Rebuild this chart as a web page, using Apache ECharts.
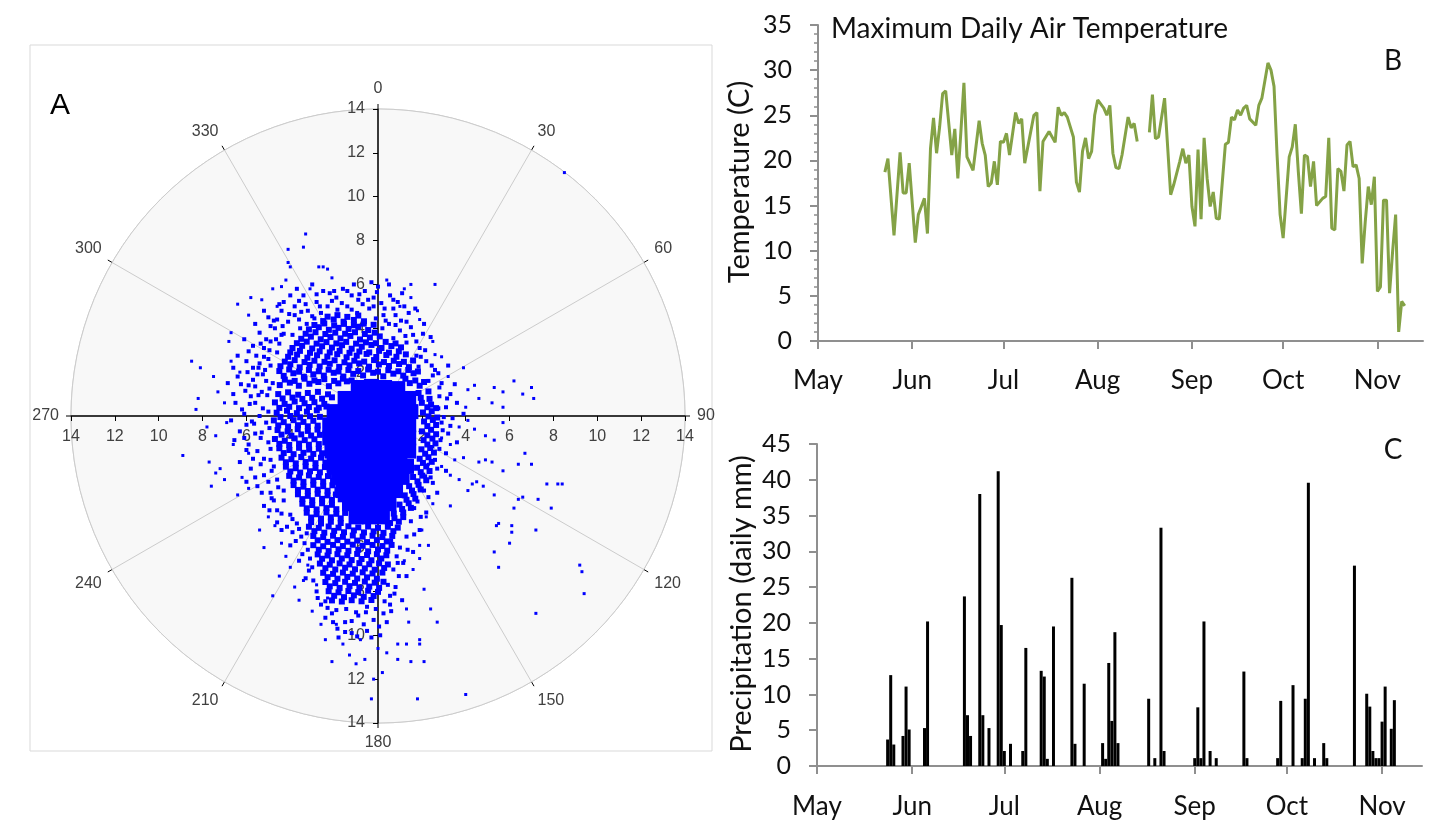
<!DOCTYPE html>
<html>
<head>
<meta charset="utf-8">
<script src="https://cdn.jsdelivr.net/npm/echarts@6/dist/echarts.min.js"></script>
<style>
  html, body { margin: 0; padding: 0; background: #ffffff; }
  #main { width: 1432px; height: 823px; }
</style>
</head>
<body>
<div id="main"></div>
<script>
// ---- Panel A: wind components (east, north) ----
// solid centre of the cloud
const windCore = [
  [-0.9,1.3],[-0.3,1.35],[0.3,1.3],[0.9,1.25],
  [-1.5,0.8],[-0.9,0.75],[-0.3,0.8],[0.3,0.8],[0.9,0.75],[1.4,0.8],
  [-2.0,0.2],[-1.4,0.2],[-0.8,0.2],[-0.2,0.2],[0.4,0.2],[1.0,0.2],[1.5,0.2],
  [-2.2,-0.4],[-1.6,-0.4],[-1.0,-0.4],[-0.4,-0.4],[0.2,-0.4],[0.8,-0.4],[1.4,-0.4],
  [-2.2,-1.0],[-1.6,-1.0],[-1.0,-1.0],[-0.4,-1.0],[0.2,-1.0],[0.8,-1.0],[1.4,-1.0],
  [-2.1,-1.6],[-1.5,-1.6],[-0.9,-1.6],[-0.3,-1.6],[0.3,-1.6],[0.9,-1.6],[1.4,-1.6],
  [-2.0,-2.2],[-1.4,-2.2],[-0.8,-2.2],[-0.2,-2.2],[0.4,-2.2],[1.0,-2.2],[1.3,-2.3],
  [-1.8,-2.8],[-1.2,-2.8],[-0.6,-2.8],[0.0,-2.8],[0.6,-2.8],[1.1,-2.8],
  [-1.6,-3.4],[-1.0,-3.4],[-0.4,-3.4],[0.2,-3.4],[0.8,-3.4],
  [-1.3,-4.0],[-0.7,-4.0],[-0.1,-4.0],[0.5,-4.0],
  [-1.0,-4.6],[-0.4,-4.6],[0.2,-4.6]
];
// dense band around the centre and the southern tail
const windDense = [
  [-4.48,1.41],[-4.02,1.52],[-3.61,1.38],[-3.13,1.47],[-2.72,1.55],[-2.24,1.36],[-1.81,1.49],[-1.42,1.58],[1.45,1.5],[1.9,1.38],
  [-4.3,1.83],[-3.86,1.95],[-3.38,1.79],[-2.95,1.9],[-2.47,1.84],[-2.02,1.97],[-1.58,1.8],[-1.13,1.92],[-0.68,1.85],[-0.22,1.97],[0.24,1.81],[0.7,1.93],[1.15,1.84],[1.62,1.95],
  [-4.45,2.27],[-4.0,2.36],[-3.57,2.22],[-3.12,2.33],[-2.66,2.26],[-2.2,2.38],[-1.77,2.24],[-1.3,2.31],[-0.86,2.4],[-0.41,2.25],[0.04,2.35],[0.5,2.28],[0.96,2.37],[1.41,2.23],
  [-4.1,2.7],[-3.69,2.8],[-3.22,2.66],[-2.78,2.77],[-2.31,2.71],[-1.86,2.82],[-1.43,2.68],[-0.97,2.75],[-0.52,2.83],[-0.08,2.69],[0.38,2.78],[0.84,2.7],[1.27,2.81],
  [-3.9,3.1],[-3.46,3.2],[-3.0,3.08],[-2.55,3.18],[-2.1,3.12],[-1.64,3.23],[-1.2,3.07],[-0.74,3.16],[-0.3,3.24],[0.16,3.1],[0.61,3.19],[1.05,3.13],
  [-3.5,3.52],[-3.06,3.62],[-2.61,3.5],[-2.17,3.6],[-1.71,3.54],[-1.26,3.65],[-0.82,3.49],[-0.37,3.58],[0.08,3.63],
  [-3.15,3.95],[-2.7,4.05],[-2.24,3.93],[-1.8,4.02],[-1.34,3.97],[-0.9,4.07],[-0.45,3.92],
  [-2.5,4.33],[-2.02,4.4],[-1.57,4.3],[-1.1,4.38],[-0.64,4.32],
  [-4.55,1.0],[-4.1,1.08],[-3.64,0.97],[-3.2,1.05],[-2.74,1.1],[-2.28,0.99],[1.85,1.05],[2.3,1.12],
  [-4.7,0.62],[-4.26,0.55],[-3.8,0.66],[-3.35,0.58],[-2.9,0.63],[-2.45,0.55],[2.0,0.6],[2.42,0.52],
  [-4.62,0.15],[-4.15,0.24],[-3.7,0.13],[-3.24,0.2],[-2.79,0.26],[2.05,0.16],[2.45,0.22],
  [-4.75,-0.2],[-4.3,-0.28],[-3.85,-0.19],[-3.4,-0.27],[-2.95,-0.22],[2.1,-0.25],[2.5,-0.18],
  [-4.58,-0.64],[-4.12,-0.7],[-3.66,-0.6],[-3.2,-0.68],[-2.76,-0.62],[2.0,-0.7],[2.42,-0.63],
  [-4.7,-1.05],[-4.25,-1.13],[-3.8,-1.02],[-3.34,-1.1],[-2.9,-1.06],[2.08,-1.1],[2.48,-1.03],
  [-4.5,-1.47],[-4.04,-1.55],[-3.6,-1.45],[-3.14,-1.53],[-2.7,-1.49],[1.98,-1.52],[2.38,-1.46],
  [-4.4,-1.9],[-3.95,-1.97],[-3.5,-1.87],[-3.05,-1.95],[-2.6,-1.9],[1.9,-1.95],[2.3,-1.88],
  [-4.2,-2.31],[-3.75,-2.38],[-3.3,-2.3],[-2.85,-2.37],[-2.42,-2.33],[1.78,-2.36],[2.2,-2.3],
  [-4.05,-2.73],[-3.6,-2.8],[-3.15,-2.71],[-2.7,-2.78],[-2.28,-2.74],[1.6,-2.78],[2.02,-2.72],
  [-3.85,-3.15],[-3.4,-3.22],[-2.95,-3.14],[-2.5,-3.2],[-2.08,-3.16],[1.42,-3.2],[1.85,-3.14],
  [-3.65,-3.57],[-3.2,-3.64],[-2.75,-3.55],[-2.3,-3.62],[-1.92,-3.58],[1.22,-3.62],[1.62,-3.56],
  [-3.45,-4.0],[-3.0,-4.06],[-2.55,-3.98],[-2.1,-4.05],[0.98,-4.04],[1.4,-3.98],
  [-3.25,-4.41],[-2.8,-4.48],[-2.35,-4.4],[-1.9,-4.46],[-1.5,-4.42],[0.72,-4.45],[1.15,-4.4],
  [-3.05,-4.84],[-2.6,-4.9],[-2.15,-4.82],[-1.7,-4.88],[0.55,-4.88],[0.95,-4.82],
  [-2.9,-5.25],[-2.45,-5.32],[-2.0,-5.24],[-1.55,-5.3],[-1.1,-5.22],[-0.64,-5.31],[-0.2,-5.26],[0.25,-5.33],[0.7,-5.25],
  [-2.75,-5.67],[-2.3,-5.74],[-1.85,-5.66],[-1.4,-5.73],[-0.95,-5.68],[-0.5,-5.75],[-0.05,-5.66],[0.4,-5.72],
  [-2.7,-6.1],[-2.25,-6.16],[-1.8,-6.08],[-1.35,-6.15],[-0.9,-6.1],[-0.45,-6.17],[0.0,-6.09],[0.42,-6.14],
  [-2.55,-6.51],[-2.1,-6.58],[-1.65,-6.5],[-1.2,-6.57],[-0.75,-6.52],[-0.3,-6.58],[0.15,-6.5],
  [-2.4,-6.94],[-1.95,-7.0],[-1.5,-6.92],[-1.05,-6.99],[-0.6,-6.95],[-0.15,-7.01],[0.28,-6.93],
  [-2.3,-7.35],[-1.85,-7.42],[-1.4,-7.34],[-0.95,-7.41],[-0.5,-7.36],[-0.05,-7.42],
  [-2.2,-7.77],[-1.75,-7.84],[-1.3,-7.76],[-0.85,-7.83],[-0.4,-7.78],[0.05,-7.84],
  [-2.0,-8.2],[-1.55,-8.26],[-1.1,-8.18],[-0.65,-8.25],[-0.2,-8.21]
];
// second layer of the dense band, filling between the first
const windDense2 = [
  [-4.25,1.66],[-3.8,1.6],[-3.35,1.7],[-2.9,1.62],[-2.45,1.68],[-2.0,1.6],[-1.6,1.7],[-1.2,1.62],[1.25,1.7],[1.7,1.62],[2.1,1.55],
  [-4.5,2.05],[-4.05,2.12],[-3.6,2.02],[-3.15,2.1],[-2.7,2.04],[-2.25,2.11],[-1.8,2.03],[-1.35,2.1],[-0.9,2.05],[-0.45,2.12],[0.0,2.02],[0.47,2.09],[0.93,2.04],[1.38,2.1],[1.82,2.03],
  [-4.25,2.48],[-3.8,2.55],[-3.35,2.46],[-2.9,2.52],[-2.44,2.47],[-1.98,2.54],[-1.53,2.45],[-1.08,2.52],[-0.63,2.48],[-0.18,2.55],[0.27,2.46],[0.72,2.52],[1.18,2.47],[1.6,2.53],
  [-4.0,2.9],[-3.56,2.97],[-3.1,2.88],[-2.66,2.95],[-2.2,2.9],[-1.75,2.97],[-1.3,2.88],[-0.85,2.94],[-0.4,2.9],[0.05,2.97],[0.5,2.89],[0.95,2.95],
  [-3.7,3.32],[-3.25,3.39],[-2.8,3.3],[-2.35,3.37],[-1.9,3.31],[-1.45,3.38],[-1.0,3.3],[-0.55,3.36],[-0.1,3.32],[0.35,3.38],[0.8,3.31],
  [-3.3,3.75],[-2.85,3.82],[-2.4,3.74],[-1.95,3.8],[-1.5,3.75],[-1.05,3.82],[-0.6,3.74],[-0.15,3.8],
  [-2.9,4.15],[-2.45,4.22],[-2.0,4.13],[-1.55,4.2],[-1.1,4.14],[-0.65,4.21],[-0.2,4.16],
  [-2.3,4.53],[-1.85,4.6],[-1.4,4.52],[-0.9,4.58],
  [-4.35,0.8],[-3.9,0.84],[-3.45,0.78],[-3.0,0.83],[-2.55,0.79],[-2.1,0.85],[1.95,0.83],[2.35,0.78],
  [-4.5,0.37],[-4.05,0.42],[-3.6,0.36],[-3.15,0.41],[-2.7,0.38],[-2.35,0.43],[2.25,0.4],[2.65,0.36],
  [-4.45,-0.05],[-4.0,0.0],[-3.55,-0.06],[-3.1,-0.01],[-2.65,-0.04],[2.3,-0.02],[2.7,-0.07],
  [-4.55,-0.43],[-4.1,-0.48],[-3.65,-0.42],[-3.2,-0.47],[-2.75,-0.44],[2.25,-0.46],[2.65,-0.41],
  [-4.4,-0.85],[-3.95,-0.9],[-3.5,-0.84],[-3.05,-0.89],[-2.65,-0.86],[2.25,-0.88],[2.65,-0.83],
  [-4.5,-1.27],[-4.05,-1.32],[-3.6,-1.26],[-3.15,-1.31],[-2.7,-1.28],[2.25,-1.3],[2.62,-1.25],
  [-4.3,-1.69],[-3.85,-1.74],[-3.4,-1.68],[-2.95,-1.73],[-2.55,-1.7],[2.15,-1.72],[2.55,-1.67],
  [-4.2,-2.11],[-3.75,-2.16],[-3.3,-2.1],[-2.85,-2.15],[-2.4,-2.12],[2.05,-2.14],[2.45,-2.09],
  [-4.0,-2.53],[-3.55,-2.58],[-3.1,-2.52],[-2.65,-2.57],[-2.2,-2.54],[1.95,-2.56],[2.35,-2.51],
  [-3.85,-2.95],[-3.4,-3.0],[-2.95,-2.94],[-2.5,-2.99],[-2.05,-2.96],[1.8,-2.98],[2.2,-2.93],
  [-3.65,-3.37],[-3.2,-3.42],[-2.75,-3.36],[-2.3,-3.41],[-1.85,-3.38],[1.55,-3.4],[1.95,-3.35],
  [-3.45,-3.79],[-3.0,-3.84],[-2.55,-3.78],[-2.1,-3.83],[-1.7,-3.8],[1.3,-3.82],[1.7,-3.77],
  [-3.25,-4.21],[-2.8,-4.26],[-2.35,-4.2],[-1.9,-4.25],[1.1,-4.24],[1.5,-4.19],
  [-3.05,-4.63],[-2.6,-4.68],[-2.15,-4.62],[-1.7,-4.67],[0.75,-4.66],[1.15,-4.61],
  [-3.15,-5.05],[-2.7,-5.1],[-2.25,-5.04],[-1.8,-5.09],[-1.35,-5.03],[-0.9,-5.08],[-0.45,-5.04],[0.0,-5.1],[0.45,-5.05],[0.9,-5.09],
  [-2.95,-5.47],[-2.5,-5.52],[-2.05,-5.46],[-1.6,-5.51],[-1.15,-5.45],[-0.7,-5.5],[-0.25,-5.46],[0.2,-5.52],[0.65,-5.47],
  [-2.95,-5.89],[-2.5,-5.94],[-2.05,-5.88],[-1.6,-5.93],[-1.15,-5.87],[-0.7,-5.92],[-0.25,-5.88],[0.2,-5.93],[0.62,-5.88],
  [-2.75,-6.31],[-2.3,-6.36],[-1.85,-6.3],[-1.4,-6.35],[-0.95,-6.29],[-0.5,-6.34],[-0.05,-6.3],[0.38,-6.35],
  [-2.65,-6.73],[-2.2,-6.78],[-1.75,-6.72],[-1.3,-6.77],[-0.85,-6.71],[-0.4,-6.76],[0.05,-6.72],[0.45,-6.77],
  [-2.5,-7.15],[-2.05,-7.2],[-1.6,-7.14],[-1.15,-7.19],[-0.7,-7.13],[-0.25,-7.18],[0.2,-7.14],
  [-2.4,-7.57],[-1.95,-7.62],[-1.5,-7.56],[-1.05,-7.61],[-0.6,-7.55],[-0.15,-7.6],[0.25,-7.56],
  [-2.25,-7.99],[-1.8,-8.04],[-1.35,-7.98],[-0.9,-8.03],[-0.45,-7.97],[0.0,-8.02],
  [-2.1,-8.41],[-1.65,-8.46],[-1.2,-8.4],[-0.75,-8.45],[-0.3,-8.39]
];
// medium-density fringe
const windMedium = [
  [-6.2,0.3],[-5.6,0.6],[-5.0,0.2],[-5.3,1.1],[-4.8,1.5],[-5.9,1.4],[-6.4,1.8],[-5.5,1.9],[-4.9,2.3],[-5.25,0.35],
  [-6.0,2.5],[-5.2,2.7],[-4.6,2.9],[-4.5,3.3],[-5.7,3.2],[-4.9,3.4],[-4.3,3.75],[-3.9,3.7],[-5.4,3.8],[-4.7,4.0],
  [-4.1,4.3],[-3.6,4.4],[-5.0,4.5],[-4.4,4.8],[-3.8,5.0],[-3.2,4.8],[-2.8,5.2],[-3.4,5.5],[-2.3,5.0],[-1.9,5.4],
  [-1.4,5.0],[-0.9,5.3],[-0.4,4.9],[-1.6,5.8],[-2.5,5.7],[-0.6,5.7],[-3.0,6.0],[-1.1,6.0],[-4.0,5.5],[-0.2,5.4],
  [-6.6,1.0],[-3.55,4.0],[-5.05,0.95],[-5.8,0.9],[-6.1,0.1],[-5.6,1.35],[-5.1,1.6],[-5.7,2.2],[-5.15,2.1],[-5.4,2.4],
  [-4.95,3.0],[-5.2,3.1],[-4.4,3.7],[-4.9,4.1],[-3.8,4.6],[-3.3,5.1],[-2.6,4.7],[-2.0,5.7],[-1.2,5.5],[-0.3,6.1],
  [-4.3,5.2],[-3.7,5.8],[-2.9,4.45],[-1.85,4.85],[-0.95,4.7],[-0.1,4.45],[-3.25,4.2],[-4.6,4.4],
  [0.3,4.9],[0.8,4.6],[1.3,4.3],[0.5,4.2],[1.0,3.9],[1.6,3.7],[0.2,4.0],[0.7,3.55],[1.3,3.35],[1.9,3.1],
  [1.75,2.75],[2.2,2.5],[1.85,2.25],[2.6,2.1],[2.3,1.6],[2.9,1.5],[2.75,1.95],
  [3.3,1.0],[2.8,0.9],[3.1,0.4],[3.6,0.6],[2.9,-0.3],[3.4,-0.1],[3.9,0.1],[3.2,-0.8],[2.8,-1.5],[3.6,-1.2],
  [2.6,-2.0],[3.1,-2.5],[2.4,-2.8],[2.1,-3.4],[2.7,-3.5],[1.8,-3.9],[2.2,-4.4],[1.5,-4.8],[1.9,-5.2],[1.3,-5.5],
  [1.0,-6.0],[1.6,-6.2],[0.9,-6.7],[1.3,-7.3],[0.8,-7.8],[1.1,-8.4],[0.6,-8.9],[0.4,-9.4],[-0.2,-9.3],[-0.9,-9.1],
  [-1.5,-9.4],[-2.1,-9.0],[-2.6,-8.6],[-0.5,-9.8],[-1.2,-9.9],[0.1,-10.0],[-1.8,-10.1],[-0.5,-8.7],[0.3,-8.45],[-2.4,-8.45],
  [0.7,5.3],[1.1,5.6],[0.0,5.9],[0.5,6.0],[1.7,4.9],[2.1,4.2],[2.4,3.6],[1.2,5.0],[3.2,2.3],[3.5,1.45],
  [-5.1,-0.3],[-5.6,-0.8],[-5.0,-1.2],[-6.1,-1.0],[-5.5,-1.6],[-4.9,-2.0],[-6.3,-2.1],[-5.8,-2.4],[-5.2,-2.7],[-4.6,-2.9],
  [-5.5,-3.2],[-4.9,-3.5],[-4.3,-3.4],[-5.2,-4.1],[-4.6,-4.3],[-4.0,-4.5],[-3.7,-4.9],[-4.4,-5.2],[-3.5,-5.5],[-4.0,-5.9],
  [-3.2,-6.1],[-3.6,-6.6],[-3.0,-6.9],[-3.3,-7.4],[-2.8,-8.0],[-6.7,-0.2],[-6.0,-0.4],[-5.4,0.0],[-5.65,-0.35],[-5.3,-0.75],
  [-5.9,-1.3],[-5.35,-2.2],[-4.85,-2.5],[-3.9,-5.3],[-3.25,-5.35],[-4.75,-3.85],
  [-5.85,0.55],[-5.45,0.95],[-6.05,1.15],[-5.7,1.65],[-5.25,1.9],[-4.95,1.25],[-6.25,1.45],[-5.95,2.0],[-5.45,2.2],[-5.0,2.6],
  [-5.55,2.75],[-5.9,2.95],[-5.1,3.5],[-4.65,3.5],[-5.35,3.3],[-4.75,4.35],[-4.35,4.1],[-4.05,4.65],[-3.5,4.75],[-3.0,4.55],
  [-2.65,5.0],[-2.1,5.25],[-1.65,5.15],[-1.2,4.85],[-0.7,5.1],[-0.2,5.0],[-2.8,5.55],[-2.2,5.6],[-1.4,5.7],[-0.85,5.55],
  [-0.45,5.3],[-3.6,5.25],[-4.5,5.1],[-5.2,4.8],[-5.6,4.2],[-6.1,3.5],[-6.4,2.75],[-6.6,2.2],[-6.85,1.5],[-6.5,0.6],
  [0.25,4.6],[0.7,4.9],[1.05,4.35],[1.5,4.05],[0.8,4.15],[0.35,4.35],[1.25,3.65],[1.75,3.4],[2.15,3.0],[1.95,2.7],
  [2.45,2.3],[2.5,1.85],[2.8,1.3],[2.75,0.35],[3.15,0.8],[3.0,-0.05],[2.95,-0.65],[3.3,-0.45],[2.85,-1.1],[3.1,-1.7],
  [2.7,-2.4],[2.5,-3.05],[2.3,-3.7],[1.95,-4.6],[1.65,-5.4],[1.35,-6.1],[1.15,-6.7],[0.95,-7.3],[0.75,-8.1],[0.55,-8.6],
  [0.6,-5.7],[0.85,-6.4],[0.7,-7.0],[0.45,-7.7],[0.55,-8.2],[1.65,-4.2],[1.9,-3.3],[2.15,-2.75],[0.9,5.2],[0.15,5.15],
  [0.55,5.5],[-0.05,5.65],[1.4,4.7],[2.05,3.75],
  [-4.95,-0.55],[-5.35,-1.0],[-4.9,-1.5],[-5.2,-1.95],[-5.7,-1.95],[-6.0,-1.55],[-5.75,-0.25],[-6.3,-0.7],[-6.55,-1.1],[-4.75,-2.3],
  [-5.0,-3.0],[-4.55,-3.25],[-4.85,-3.75],[-4.3,-3.85],[-4.4,-4.45],[-3.9,-4.7],[-4.15,-5.05],[-3.6,-5.15],[-3.75,-5.7],[-3.35,-5.8],
  [-3.45,-6.3],[-3.1,-6.5],[-3.15,-7.05],[-2.95,-7.5],[-2.75,-8.3],[-5.6,-2.8],[-5.3,-3.5],[-6.0,-3.0],[-4.95,-4.3],[-4.6,-4.85],
  [-2.3,-8.75],[-1.9,-8.85],[-1.45,-8.8],[-1.0,-8.95],[-0.55,-8.95],[-0.1,-8.8],[0.25,-9.0],[-2.05,-9.4],[-1.2,-9.35],[-0.65,-9.5],
  [0.05,-9.6],[-1.5,-9.85],[-0.95,-10.05],[-0.3,-10.1],[-1.85,-9.7],[-2.4,-9.2]
];
// scattered outliers
const windSparse = [
  [-3.3,8.3],[-3.4,7.7],[-4.1,7.6],[-4.0,6.8],[-4.1,7.0],[-2.7,6.8],[-2.5,6.8],[-2.3,6.7],[-2.1,6.3],[-3.1,5.8],
  [-4.2,6.2],[-4.4,5.9],[-4.8,5.8],[-5.8,5.4],[-6.4,5.1],[-5.3,5.3],[-4.6,5.0],[-5.9,4.6],[-5.4,3.8],[-6.7,3.8],
  [-6.8,3.4],[-8.5,2.5],[-8.1,2.2],[-7.5,1.8],[-8.2,0.8],[-7.3,1.1],[-7.0,0.6],[-6.7,2.5],[-6.3,2.0],
  [6.2,1.6],[7.0,1.3],[7.1,0.8],[6.6,1.0],[5.3,1.3],[5.7,1.1],[3.9,2.2],[2.6,6.0],[1.5,6.0],[0.4,6.2],
  [1.2,5.8],[1.5,5.4],[1.0,5.0],[1.8,4.8],[1.9,4.4],[2.5,3.4],[2.6,2.8],[2.9,2.7],[3.2,1.8],[4.1,1.2],
  [4.4,1.4],[4.6,0.8],[5.2,0.6],[5.7,0.4],[4.0,0.4],[8.5,11.1],
  [6.7,-1.7],[7.0,-2.2],[7.7,-3.1],[8.2,-3.1],[8.4,-3.1],[7.9,-4.2],[6.6,-3.7],[6.4,-3.8],[6.2,-4.2],[7.3,-3.8],
  [7.2,-5.2],[6.1,-5.0],[6.1,-5.3],[5.5,-4.9],[5.4,-5.0],[6.0,-5.8],[5.3,-6.2],[5.5,-6.9],[9.2,-6.8],[9.3,-7.1],
  [9.4,-8.1],[7.2,-9.0],[3.3,-4.1],[4.1,-3.4],[4.3,-3.1],[4.5,-3.0],[4.8,-3.2],[5.3,-3.6],[3.7,-2.9],[3.3,-2.7],
  [2.9,-2.3],[3.5,-2.0],[3.9,-1.9],[4.6,-2.1],[4.9,-2.0],[5.2,-2.1],[5.7,-2.5],[6.4,-2.2],[5.3,-1.1],[4.9,-0.9],
  [5.7,-0.3],[4.4,-0.6],[4.1,-0.2],[3.7,-0.5],[3.3,-1.3],[2.9,-1.0],[2.5,-1.4],[2.3,-2.2],[2.1,-7.9],[2.4,-8.8],
  [2.7,-9.4],[1.9,-10.4],[2.1,-11.2],[1.5,-11.2],[0.9,-11.1],[0.2,-11.7],[1.8,-12.9],[4.0,-12.7],[1.3,-10.4],[1.9,-10.2],
  [0.9,-10.4],[0.4,-10.8],[1.4,-9.4],[1.3,-8.8],[1.6,-7.0],[1.2,-6.6],[1.9,-6.5],[2.3,-5.9],[1.9,-5.9],[2.0,-5.2],
  [2.2,-4.6],[2.5,-4.0],
  [-8.9,-1.8],[-7.6,-3.2],[-7.4,-2.6],[-7.2,-2.4],[-7.7,-2.1],[-7.0,-2.9],[-6.4,-3.6],[-5.9,-3.3],[-5.4,-5.2],[-4.7,-5.0],
  [-4.8,-8.2],[-4.2,-6.4],[-4.0,-6.9],[-3.8,-7.8],[-3.0,-8.9],[-2.6,-9.5],[-2.1,-11.2],[-1.6,-10.4],[-1.0,-11.3],[-0.6,-11.1],
  [-0.3,-12.9],[-1.9,-9.5],[-2.3,-8.3],[-2.8,-7.7],[-3.4,-7.5],[-3.2,-6.8],[-5.9,-1.7],[-8.3,0.3],[-7.8,-0.5],[-7.4,-0.9],
  [-6.6,-1.3],[-6.9,-0.3],[-6.2,-2.8],[-5.0,-4.6],[-4.4,-5.8],[-2.4,-10.2],[-1.3,-10.9],[-0.8,-10.2],[0.0,-10.6],[-0.2,-12.0],
  [-3.6,-8.4],[-5.2,-6.0],[-4.5,-7.3]
];

// ---- Panels B and C: days counted from 1 May ----
const monthStarts = [0, 31, 61, 92, 123, 153, 184];
const monthNames = ['May', 'Jun', 'Jul', 'Aug', 'Sep', 'Oct', 'Nov'];

// [day, maximum daily air temperature (C)]; '-' marks missing days
const maxTemp = [
  [22,18.7],[23,20.2],[25,11.7],[27,20.9],[28,16.4],[29,16.4],[30,19.7],[32,10.9],[33,14.0],[34,14.9],
  [35,15.8],[36,11.9],[37,21.3],[38,24.7],[39,20.8],[40,23.7],[41,27.4],[42,27.7],[44,20.6],[45,23.5],
  [46,18.0],[47,23.2],[48,28.6],[49,20.4],[51,18.9],[53,24.4],[54,21.9],[55,20.6],[56,17.1],[57,17.5],
  [58,19.9],[59,17.3],[60,22.1],[61,22.0],[62,23.0],[63,20.6],[65,25.3],[66,24.1],[67,24.6],[68,19.7],
  [71,25.0],[72,25.3],[73,16.6],[74,22.1],[76,23.2],[78,22.0],[79,25.9],[80,25.0],[81,25.3],[82,24.8],
  [84,22.6],[85,17.6],[86,16.5],[87,21.0],[88,22.5],[89,20.2],[90,21.0],[91,25.0],[92,26.7],[94,25.8],
  [95,25.0],[96,26.1],[97,20.8],[98,19.2],[99,19.1],[100,20.6],[102,24.8],[103,23.6],[104,24.1],[105,22.1],
  [106,'-'],[107,'-'],[108,'-'],
  [109,23.1],[110,27.3],[111,22.4],[112,22.6],[114,26.9],[116,16.2],[117,17.3],[119,19.9],[120,21.3],[121,19.7],
  [122,20.6],[123,14.9],[124,12.7],[125,21.2],[126,13.5],[127,22.5],[128,18.0],[129,14.9],[130,16.5],[131,13.6],
  [132,13.5],[134,21.8],[135,22.0],[136,24.8],[137,24.5],[138,25.6],[139,25.0],[140,25.8],[141,26.1],[142,24.6],
  [144,23.9],[145,26.1],[146,26.9],[148,30.8],[149,30.0],[150,28.2],[151,20.6],[152,14.0],[153,11.4],[155,20.4],
  [156,21.5],[157,24.0],[158,18.7],[159,14.1],[160,20.6],[161,20.4],[162,17.1],[163,19.9],[164,15.0],[166,15.8],
  [167,16.0],[168,22.5],[169,12.5],[170,12.3],[171,19.1],[172,18.8],[173,16.6],[174,21.7],[175,22.1],[176,19.3],
  [177,19.5],[178,18.0],[179,8.6],[180,13.2],[181,17.1],[182,15.1],[183,18.2],[184,5.5],[185,6.0],[186,15.6],
  [187,15.6],[188,5.3],[189,9.9],[190,14.0],[191,1.0],[192,4.4],[193,3.9]
];

// [day, daily precipitation (mm)]
const precip = [
  [23,3.7],[24,12.7],[25,3.0],[28,4.2],[29,11.1],[30,5.1],[35,5.3],[36,20.2],[48,23.7],[49,7.1],
  [50,4.2],[53,38.0],[54,7.1],[56,5.3],[59,41.2],[60,19.7],[61,2.1],[63,3.1],[67,2.1],[68,16.5],
  [73,13.3],[74,12.5],[75,1.0],[77,19.5],[83,26.3],[84,3.1],[87,11.5],[93,3.2],[94,1.0],[95,14.4],
  [96,6.3],[97,18.7],[98,3.2],[108,9.4],[110,1.1],[112,33.3],[113,2.1],[123,1.1],[124,8.2],[125,1.1],
  [126,20.2],[128,2.1],[130,1.1],[139,13.2],[140,1.1],[150,1.1],[151,9.1],[155,11.3],[158,1.1],[159,9.4],
  [160,39.6],[162,1.1],[165,3.2],[166,1.1],[175,28.0],[179,10.1],[180,8.3],[181,2.1],[182,1.1],[183,1.1],
  [184,6.2],[185,11.1],[187,5.2],[188,9.2]
];

const chart = echarts.init(document.getElementById('main'), null, { renderer: 'canvas' });

const sansA = 'Liberation Sans';
const sansB = 'Lato';
const axisGray = '#8f8f8f';
const ringGray = '#cccccc';
const windBlue = '#0000ff';

function monthLabel(v) {
  const i = monthStarts.indexOf(Math.round(v));
  return i >= 0 ? monthNames[i] : '';
}

function crossLabel(v) {
  return v === 0 ? '' : String(Math.abs(v));
}

function timeXAxis(gridIndex, max, labelMargin) {
  return {
    type: 'value', gridIndex, min: 0, max,
    axisLine: { show: true, onZero: false, lineStyle: { color: axisGray, width: 2 } },
    axisTick: { show: true, customValues: monthStarts, length: 8, lineStyle: { color: axisGray, width: 2 } },
    axisLabel: { customValues: monthStarts, formatter: monthLabel, margin: labelMargin,
                 color: '#111', fontFamily: sansB, fontSize: 26 },
    splitLine: { show: false }
  };
}

function valueYAxis(gridIndex, max, minor) {
  return {
    type: 'value', gridIndex, min: 0, max, interval: 5,
    axisLine: { show: true, lineStyle: { color: axisGray, width: 2 } },
    axisTick: { show: true, length: 8, lineStyle: { color: axisGray, width: 2 } },
    minorTick: { show: minor, splitNumber: 5, length: 4, lineStyle: { color: axisGray, width: 1.5 } },
    axisLabel: { margin: 26, color: '#111', fontFamily: sansB, fontSize: 25 },
    splitLine: { show: false }
  };
}

function windSeries(data, size) {
  return {
    type: 'scatter', xAxisIndex: 0, yAxisIndex: 0, data, symbol: 'rect', symbolSize: size,
    itemStyle: { color: windBlue, opacity: 1 }, silent: true
  };
}

const option = {
  animation: false,
  backgroundColor: '#ffffff',
  polar: { center: [378, 416], radius: 307 },
  angleAxis: {
    type: 'value', min: 0, max: 360, interval: 30, startAngle: 90, clockwise: true,
    axisLine: { lineStyle: { color: ringGray, width: 1 } },
    axisTick: { show: true, length: 5, lineStyle: { color: '#000', width: 1 } },
    axisLabel: { margin: 12, color: '#404040', fontFamily: sansA, fontSize: 16,
                 formatter: v => (v === 360 ? '' : String(v)) },
    splitLine: { show: true, lineStyle: { color: ringGray, width: 1 } }
  },
  radiusAxis: {
    type: 'value', min: 0, max: 14, interval: 2,
    axisLine: { show: false }, axisTick: { show: false }, axisLabel: { show: false },
    splitLine: { show: true, lineStyle: { color: ringGray, width: 1 } },
    splitArea: { show: true, areaStyle: { color: ['#f8f8f8'] } }
  },
  grid: [
    { left: 71, top: 109, width: 614, height: 614 },
    { left: 818, top: 25, width: 605, height: 316 },
    { left: 817, top: 444, width: 605, height: 322 }
  ],
  xAxis: [
    {
      // horizontal arm of the cross, shifted up to the centre line
      type: 'value', gridIndex: 0, min: -14, max: 14, interval: 2, position: 'bottom', offset: -307,
      axisLine: { show: true, onZero: false, lineStyle: { color: '#000', width: 1.5 } },
      axisTick: { show: true, length: 5, lineStyle: { color: '#000' } },
      axisLabel: { formatter: crossLabel, margin: 13, color: '#404040', fontFamily: sansA, fontSize: 16 },
      splitLine: { show: false }
    },
    timeXAxis(1, 199, 27),
    timeXAxis(2, 197, 28)
  ],
  yAxis: [
    {
      // vertical arm of the cross, shifted right to the centre line
      type: 'value', gridIndex: 0, min: -14, max: 14, interval: 2, position: 'left', offset: -307,
      axisLine: { show: true, onZero: false, lineStyle: { color: '#000', width: 1.5 } },
      axisTick: { show: true, length: 5, lineStyle: { color: '#000' } },
      axisLabel: { formatter: crossLabel, margin: 13, color: '#404040', fontFamily: sansA, fontSize: 16 },
      splitLine: { show: false }
    },
    valueYAxis(1, 35, true),
    valueYAxis(2, 45, false)
  ],
  series: [
    windSeries(windCore, 15),
    windSeries(windDense, 6),
    windSeries(windDense2, 6),
    windSeries(windMedium, 4),
    windSeries(windSparse, 3),
    { type: 'line', xAxisIndex: 1, yAxisIndex: 1, data: maxTemp, showSymbol: false, connectNulls: false,
      lineStyle: { color: '#84a246', width: 3 }, silent: true },
    { type: 'bar', xAxisIndex: 2, yAxisIndex: 2, data: precip, barWidth: 3,
      itemStyle: { color: '#000000' }, silent: true }
  ],
  graphic: [
    { type: 'rect', shape: { x: 30, y: 45, width: 682, height: 706 }, z: -10,
      style: { fill: 'none', stroke: '#d9d9d9', lineWidth: 1 } },
    { type: 'text', x: 50, y: 106, z: 10,
      style: { text: 'A', font: '30px "Liberation Sans"', fill: '#000', align: 'left', verticalAlign: 'middle' } },
    { type: 'text', x: 831, y: 29, z: 10,
      style: { text: 'Maximum Daily Air Temperature', font: '28px Lato', fill: '#111', align: 'left', verticalAlign: 'middle' } },
    { type: 'text', x: 1393, y: 61, z: 10,
      style: { text: 'B', font: '28px Lato', fill: '#111', align: 'center', verticalAlign: 'middle' } },
    { type: 'text', x: 1393, y: 450, z: 10,
      style: { text: 'C', font: '28px Lato', fill: '#111', align: 'center', verticalAlign: 'middle' } },
    { type: 'text', x: 740, y: 182, rotation: Math.PI / 2, z: 10,
      style: { text: 'Temperature (C)', font: '29px Lato', fill: '#111', align: 'center', verticalAlign: 'middle' } },
    { type: 'text', x: 742, y: 604, rotation: Math.PI / 2, z: 10,
      style: { text: 'Precipitation (daily mm)', font: '29px Lato', fill: '#111', align: 'center', verticalAlign: 'middle' } }
  ]
};

chart.setOption(option);
</script>
</body>
</html>
